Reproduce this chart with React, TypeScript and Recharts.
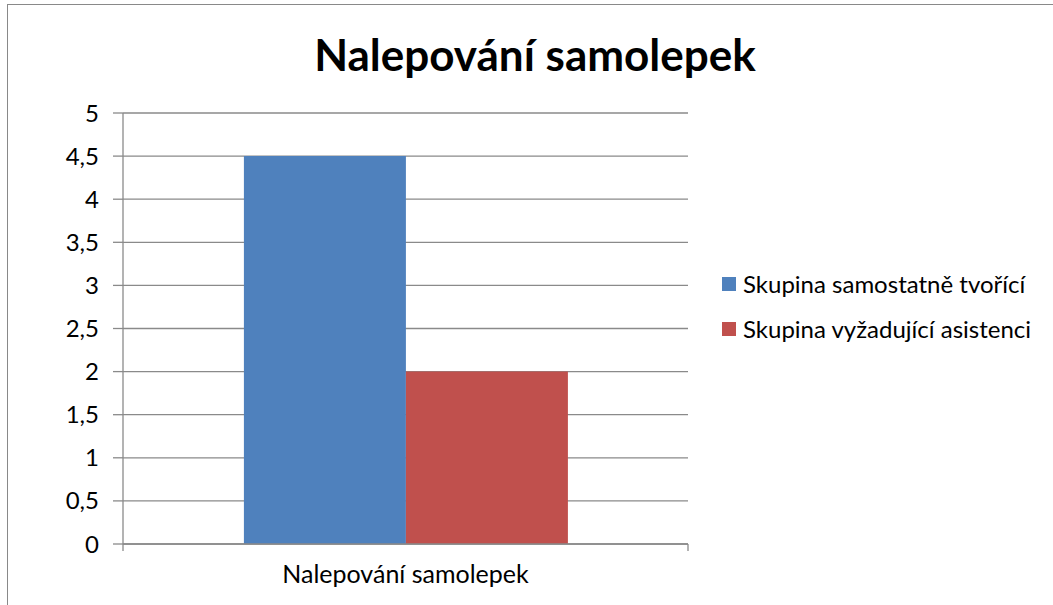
import { BarChart, Bar, XAxis, YAxis, CartesianGrid, Legend } from 'recharts';

const categories = ['Nalepování samolepek'];
const samostatne = [4.5];
const asistence = [2];
const yTicks = [0, 0.5, 1, 1.5, 2, 2.5, 3, 3.5, 4, 4.5, 5];
const seriesNames = ['Skupina samostatně tvořící', 'Skupina vyžadující asistenci'];

const data = categories.map((c, i) => ({ name: c, a: samostatne[i], b: asistence[i] }));

const FONT = 'Lato, "Open Sans", sans-serif';
const GRID = '#8a8a8a';

function LegendBox({ payload }: any) {
  return (
    <div>
      {(payload || []).map((p: any, i: number) => (
        <div key={i} style={{ display: 'flex', alignItems: 'center', height: 45, fontSize: 24, color: '#000', whiteSpace: 'nowrap' }}>
          <span style={{ width: 14, height: 14, background: p.color, marginRight: 7, display: 'inline-block' }} />
          <span>{p.value}</span>
        </div>
      ))}
    </div>
  );
}

// category label plus the small tick marks at both edges of the band
function CatTick(props: any) {
  const { x, y, payload } = props;
  const half = payload?.offset || 0;
  const top = y - 21;
  return (
    <g>
      <line x1={x - half} x2={x - half} y1={top} y2={top + 7} stroke={GRID} strokeWidth={1.3} />
      <line x1={x + half} x2={x + half} y1={top} y2={top + 7} stroke={GRID} strokeWidth={1.3} />
      <text x={x} y={y} dy="0.71em" textAnchor="middle" fill="#000" fontSize={25}>{payload.value}</text>
    </g>
  );
}

export default function App() {
  return (
    <div style={{ position: 'absolute', left: 0, top: 0, width: 1053, height: 605, overflow: 'hidden', background: '#fff', fontFamily: FONT }}>
      <div style={{ position: 'absolute', left: 7, top: 4, width: 1100, height: 700, border: '1.5px solid #898989', boxSizing: 'border-box' }} />
      <div style={{ position: 'absolute', left: 0, width: 1070, top: 28, textAlign: 'center', fontSize: 44, fontWeight: 700, color: '#000', lineHeight: '52px' }}>
        Nalepování samolepek
      </div>
      <div style={{ position: 'absolute', left: 0, top: 0 }}>
        <BarChart width={1053} height={605} data={data} margin={{ top: 113, right: 365, left: 43, bottom: 21 }}
          barCategoryGap="21.4%" barGap={0}>
          <CartesianGrid vertical={false} stroke={GRID} strokeWidth={1.3} />
          <XAxis dataKey="name" height={40} tickLine={false} tickSize={7} tickMargin={14}
            axisLine={{ stroke: GRID, strokeWidth: 1.3 }} tick={<CatTick />} />
          <YAxis width={80} domain={[0, 5]} ticks={yTicks} interval={0} tickSize={10} tickMargin={14}
            axisLine={{ stroke: GRID, strokeWidth: 1.3 }} tickLine={{ stroke: GRID, strokeWidth: 1.3 }}
            tick={{ fill: '#000', fontSize: 24 }} tickFormatter={(v: number) => String(v).replace('.', ',')} />
          <Bar dataKey="a" name={seriesNames[0]} fill="#4F81BD" isAnimationActive={false} />
          <Bar dataKey="b" name={seriesNames[1]} fill="#C0504D" isAnimationActive={false} />
          <Legend layout="horizontal" align="center" verticalAlign="middle" content={LegendBox}
            wrapperStyle={{ left: 722, top: 261, width: 330 }} />
        </BarChart>
      </div>
    </div>
  );
}
